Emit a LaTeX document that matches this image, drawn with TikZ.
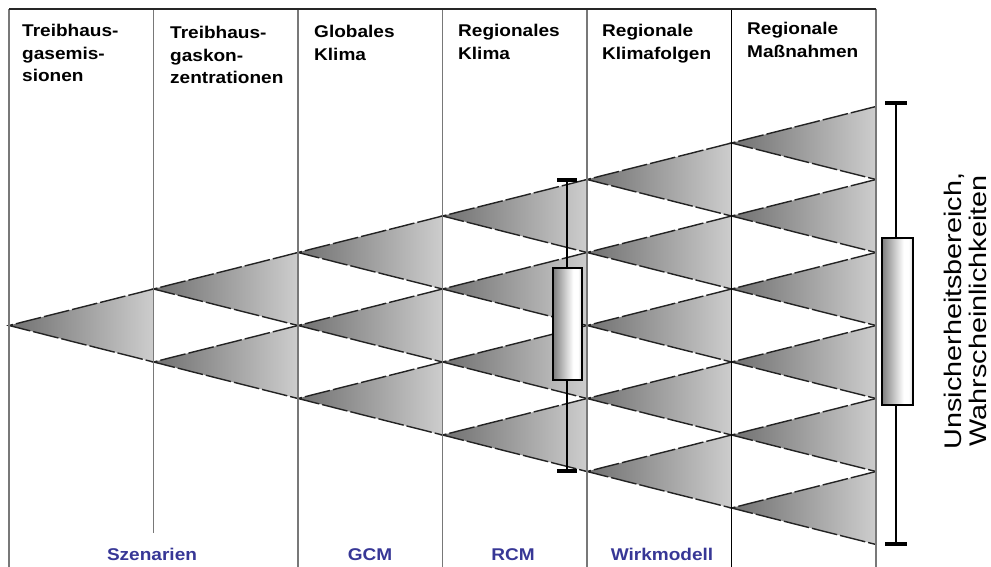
\documentclass[tikz,border=0pt]{standalone}
\usepackage{fontspec}
\setmainfont{Liberation Sans}
\newfontfamily\hdrfont[FakeStretch=1.12]{Liberation Sans}
\newfontfamily\rotfont[FakeStretch=1.2]{Liberation Sans}
\definecolor{tridark}{RGB}{112,112,112}
\definecolor{trilight}{RGB}{205,205,205}
\definecolor{edgecol}{RGB}{35,35,35}
\definecolor{colgray}{RGB}{120,120,120}
\definecolor{lblblue}{RGB}{55,55,150}
\definecolor{boxdark}{RGB}{125,125,125}
\definecolor{boxlight}{RGB}{215,215,215}
\pgfdeclarehorizontalshading{boxshade}{100bp}{color(0bp)=(boxdark); color(25bp)=(boxdark); color(60bp)=(white); color(68bp)=(white); color(75bp)=(boxlight); color(100bp)=(boxlight)}
\tikzset{
  edge/.style={draw=edgecol, line width=1.4pt, dash pattern=on 26pt off 3pt},
  colline/.style={draw=colgray, line width=1.3pt},
  mainline/.style={draw=black, line width=1.8pt},
  hdr/.style={anchor=north west, align=left, inner sep=0pt, font=\hdrfont\bfseries\fontsize{17}{22.5}\selectfont},
  lbl/.style={anchor=base, inner sep=0pt, text=lblblue, font=\hdrfont\bfseries\fontsize{17}{20}\selectfont},
  barline/.style={draw=black, line width=2pt},
  barcap/.style={draw=black, line width=3.2pt},
  barbox/.style={draw=black, line width=2.6pt, shading=boxshade},
}
\begin{document}
\begin{tikzpicture}[x=1pt,y=-1pt]
\useasboundingbox (0,0) rectangle (991,567);
% triangles (decision tree)
\foreach \k in {1,...,6}{
  \pgfmathsetmacro\xa{9+144.5*(\k-1)}
  \pgfmathsetmacro\xb{9+144.5*\k}
  \pgfmathtruncatemacro\km{\k-1}
  \foreach \j in {0,...,\km}{
    \pgfmathsetmacro\ya{325.5+(2*\j-\km)*36.5}
    \pgfmathsetmacro\yt{\ya-36.5}
    \pgfmathsetmacro\yb{\ya+36.5}
    \shade[left color=tridark, right color=trilight] (\xa,\ya) -- (\xb,\yt) -- (\xb,\yb) -- cycle;
    \draw[edge] (\xb,\yt) -- (\xa,\ya) -- (\xb,\yb);
  }
}
% frame and column lines
\coordinate (c0t) at (9,9);   \coordinate (c0b) at (9,567);
\coordinate (c1t) at (153.5,9); \coordinate (c1b) at (153.5,533);
\coordinate (c2t) at (298,9); \coordinate (c2b) at (298,567);
\coordinate (c3t) at (442.5,9); \coordinate (c3b) at (442.5,567);
\coordinate (c4t) at (587,9); \coordinate (c4b) at (587,567);
\coordinate (c5t) at (731.5,9); \coordinate (c5b) at (731.5,567);
\coordinate (c6t) at (876,9); \coordinate (c6b) at (876,567);
\draw[colline] (c0t) -- (c0b);
\draw[colline] (c1t) -- (c1b);
\draw[colline] (c2t) -- (c2b);
\draw[colline] (c3t) -- (c3b);
\draw[colline] (c4t) -- (c4b);
\draw[mainline] (c5t) -- (c5b);
\draw[colline] (c6t) -- (c6b);
\draw[draw=black!85, line width=1.6pt] (c0t) -- (c6t);
% headers
\node[hdr] (h1) at (22,24) {Treibhaus-\\gasemis-\\sionen};
\node[hdr] (h2) at (170,26) {Treibhaus-\\gaskon-\\zentrationen};
\node[hdr] (h3) at (314,25) {Globales\\Klima};
\node[hdr] (h4) at (458,24) {Regionales\\Klima};
\node[hdr] (h5) at (602,24) {Regionale\\Klimafolgen};
\node[hdr] (h6) at (747,22) {Regionale\\Maßnahmen};
% bottom labels
\node[lbl] (l1) at (152,560) {Szenarien};
\node[lbl] (l2) at (370,560) {GCM};
\node[lbl] (l3) at (513,560) {RCM};
\node[lbl] (l4) at (662,560) {Wirkmodell};
% small error bar
\coordinate (sbt) at (567,180); \coordinate (sbb) at (567,471);
\draw[barline] (sbt) -- (sbb);
\draw[barcap] (557,180) -- (577,180);
\draw[barcap] (557,471) -- (577,471);
\path[barbox] (553,268) rectangle (582,380);
% large error bar
\coordinate (lbt) at (896,103); \coordinate (lbb) at (896,544);
\draw[barline] (lbt) -- (lbb);
\draw[barcap] (885,103) -- (907,103);
\draw[barcap] (885,544) -- (907,544);
\path[barbox] (882,238) rectangle (913,405);
% rotated caption
\node[rotate=90, align=center, inner sep=0pt, font=\rotfont\fontsize{24}{25}\selectfont] (cap) at (965,311) {Unsicherheitsbereich,\\Wahrscheinlichkeiten};
\end{tikzpicture}
\end{document}
